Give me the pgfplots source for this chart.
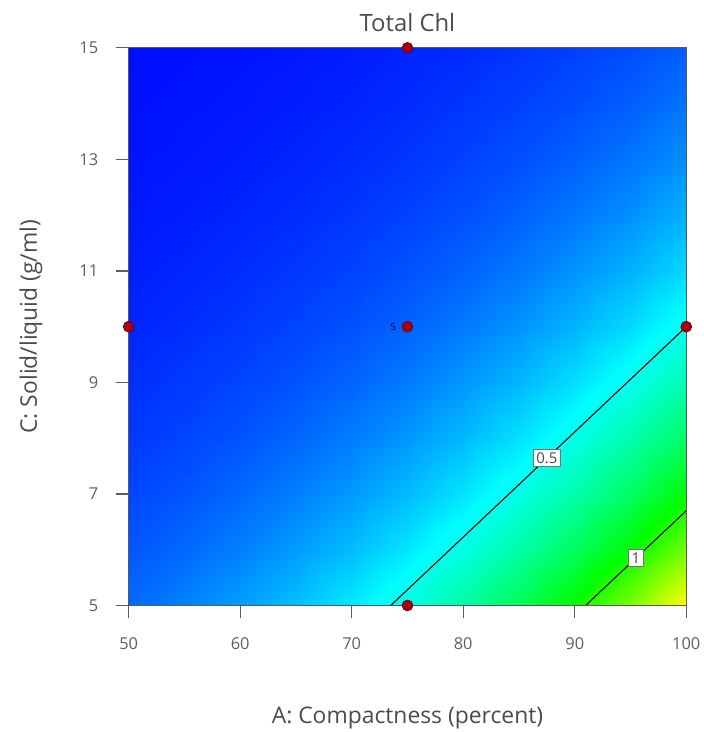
\documentclass[border=0pt]{standalone}
\usepackage{fontspec}
\setmainfont{Open Sans}
\usepackage{pgfplots}
\usepackage{pgfplotstable}
\pgfplotsset{compat=1.18}

\definecolor{tickgray}{RGB}{95,95,95}
\definecolor{labelgray}{RGB}{75,75,75}
\definecolor{ptred}{RGB}{165,0,20}
\definecolor{ptedge}{RGB}{90,0,10}

% Predicted Total Chl over A (compactness) x C (solid/liquid), C held per scanline
\pgfplotstableread{
A C f
50 5 0.1972
55 5 0.2406
60 5 0.2932
65 5 0.3575
70 5 0.4355
75 5 0.5310
80 5 0.6473
85 5 0.7890
90 5 0.9619
95 5 1.1722
100 5 1.4289
50 6 0.1598
55 6 0.1950
60 6 0.2377
65 6 0.2898
70 6 0.3530
75 6 0.4304
80 6 0.5247
85 6 0.6396
90 6 0.7797
95 6 0.9502
100 6 1.1582
50 7 0.1296
55 7 0.1581
60 7 0.1926
65 7 0.2349
70 7 0.2861
75 7 0.3489
80 7 0.4253
85 7 0.5184
90 7 0.6320
95 7 0.7702
100 7 0.9388
50 8 0.1050
55 8 0.1282
60 8 0.1562
65 8 0.1904
70 8 0.2320
75 8 0.2828
80 8 0.3447
85 8 0.4202
90 8 0.5123
95 8 0.6243
100 8 0.7610
50 9 0.0851
55 9 0.1039
60 9 0.1266
65 9 0.1543
70 9 0.1880
75 9 0.2292
80 9 0.2794
85 9 0.3406
90 9 0.4153
95 9 0.5061
100 9 0.6169
50 10 0.0690
55 10 0.0842
60 10 0.1026
65 10 0.1251
70 10 0.1524
75 10 0.1858
80 10 0.2265
85 10 0.2761
90 10 0.3366
95 10 0.4102
100 10 0.5000
50 11 0.0559
55 11 0.0683
60 11 0.0832
65 11 0.1014
70 11 0.1235
75 11 0.1506
80 11 0.1836
85 11 0.2238
90 11 0.2728
95 11 0.3325
100 11 0.4053
50 12 0.0453
55 12 0.0553
60 12 0.0674
65 12 0.0822
70 12 0.1001
75 12 0.1221
80 12 0.1488
85 12 0.1814
90 12 0.2211
95 12 0.2695
100 12 0.3285
50 13 0.0367
55 13 0.0448
60 13 0.0546
65 13 0.0666
70 13 0.0812
75 13 0.0990
80 13 0.1206
85 13 0.1470
90 13 0.1793
95 13 0.2185
100 13 0.2663
50 14 0.0298
55 14 0.0363
60 14 0.0443
65 14 0.0540
70 14 0.0658
75 14 0.0802
80 14 0.0978
85 14 0.1192
90 14 0.1453
95 14 0.1771
100 14 0.2159
50 15 0.0241
55 15 0.0295
60 15 0.0359
65 15 0.0438
70 15 0.0533
75 15 0.0650
80 15 0.0793
85 15 0.0966
90 15 0.1178
95 15 0.1435
100 15 0.1750
}\surfdata

% Design points (factorial, axial and centre runs)
\pgfplotstableread{
A C
50 10
75 15
75 10
100 10
75 5
}\designpts

\begin{document}
\begin{tikzpicture}
\begin{axis}[
  scale only axis,
  width=559bp, height=559bp,
  xmin=50, xmax=100, ymin=5, ymax=15,
  xtick={50,60,70,80,90,100},
  ytick={5,7,9,11,13,15},
  xtick pos=left, ytick pos=left,
  tick align=outside,
  major tick length=13bp,
  major tick style={draw=tickgray, line width=1.2pt},
  axis line style={draw=black!65, line width=0.8pt},
  /pgf/number format/assume math mode=true,
  ticklabel style={font=\fontsize{16.5}{19}\selectfont, text=tickgray},
  xticklabel style={yshift=-16bp},
  yticklabel style={xshift=-14bp},
  colormap={designexpert}{rgb255=(0,0,255) rgb255=(0,255,255) rgb255=(0,255,0) rgb255=(255,255,0) rgb255=(255,0,0)},
  point meta min=0, point meta max=1.9,
  title={Total Chl},
  title style={font=\fontsize{24}{28}\selectfont, text=labelgray, at={(axis description cs:0.5,1)}, anchor=base, yshift=10bp},
  xlabel={A: Compactness (percent)},
  xlabel style={font=\fontsize{23}{27}\selectfont, text=labelgray, at={(axis description cs:0.5,0)}, anchor=base, yshift=-118bp},
  ylabel={C: Solid/liquid (g/ml)},
  ylabel style={font=\fontsize{23}{27}\selectfont, text=labelgray, at={(axis description cs:-0.1646,0.5)}, anchor=base},
  clip=false,
  axis on top,
]
\addplot[surf, shader=interp, mesh/cols=11, point meta=explicit]
  table[x=A, y=C, meta=f] {\surfdata};

% contour 0.5
\addplot[black, line width=1.1pt] coordinates {(73.5,5) (100,10)}
  node[pos=0.528, fill=white, draw=black!55, inner sep=3pt, font=\fontsize{15}{17}\selectfont, text=black!70] {0.5};
% contour 1
\addplot[black, line width=1.1pt] coordinates {(90.97,5) (100,6.70)}
  node[pos=0.50, fill=white, draw=black!55, inner sep=3pt, font=\fontsize{15}{17}\selectfont, text=black!70] {1};

\addplot[only marks, mark=*, mark size=5.5bp, mark options={fill=ptred, draw=ptedge, line width=0.6pt}]
  table[x=A, y=C] {\designpts};

% replicate count at the centre point
\node[font=\fontsize{10}{11}\selectfont, text=black!80!blue, anchor=east] at (axis cs:74.3,10) {5};
\end{axis}
\path (-129bp,-125bp) rectangle (575bp,607bp);
\end{tikzpicture}
\end{document}
